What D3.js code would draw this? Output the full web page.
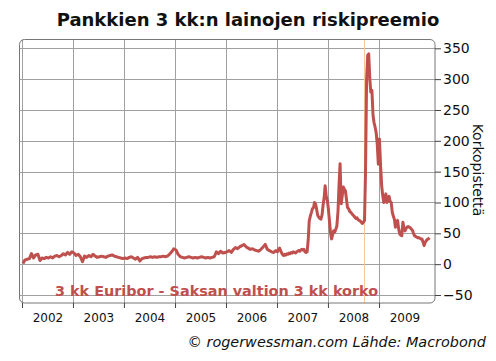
<!DOCTYPE html>
<html>
<head>
<meta charset="utf-8">
<script src="https://cdn.jsdelivr.net/npm/d3@7"></script>
<style>
  body { margin: 0; background: #fff; }
  svg { display: block; font-family: "DejaVu Sans", Verdana, sans-serif; }
</style>
</head>
<body>
<script>
// Values (basis points)
const years = [2002, 2003, 2004, 2005, 2006, 2007, 2008, 2009];
const yTicks = [-50, 0, 50, 100, 150, 200, 250, 300, 350];
const lehman = new Date(2008, 8, 15);

// semi-monthly readings
const spread2002 = [1, 7, 8, 9, 17, 10, 15, 16, 6, 10, 9, 11, 10, 12, 10, 13, 14, 12, 14, 17, 15, 19, 16, 20];
const spread2003 = [18, 14, 16, 12, 4, 13, 11, 14, 12, 16, 13, 11, 12, 13, 12, 11, 13, 14, 15, 13, 12, 11, 10, 9];
const spread2004 = [10, 9, 11, 12, 10, 8, 11, 5, 9, 10, 11, 11, 12, 11, 12, 11, 12, 12, 13, 12, 13, 16, 20, 25];
const spread2005 = [23, 16, 12, 11, 10, 11, 12, 11, 10, 11, 10, 11, 12, 11, 10, 11, 10, 11, 12, 20, 17, 21, 18, 19];
const spread2006 = [20, 22, 19, 24, 27, 25, 28, 30, 32, 28, 26, 24, 25, 23, 22, 21, 24, 28, 32, 24, 22, 20, 19, 22];
// weekly readings
const spread2007 = [20, 24, 26, 22, 18, 15, 14, 16, 15, 17, 16, 18, 17, 19, 18, 20,
                    19, 18, 20, 21, 22, 21, 23, 24, 23, 24, 20, 19, 20, 40, 70, 78,
                    84, 90, 92, 100, 97, 88, 79, 76, 74, 73, 80, 95, 108, 127, 110, 103];
const spread2008 = [90, 70, 50, 41, 48, 54, 52, 57, 62, 85, 125, 163, 98, 110, 125, 122,
                    119, 105, 92, 90, 86, 84, 82, 80, 78, 76, 74, 75, 72, 71, 70, 68,
                    66, 68, 71, 147, 300, 339, 341, 300, 279, 282, 241, 230, 222, 214, 195, 162];
const spread2009 = [203, 160, 127, 112, 100, 105, 114, 100, 106, 110, 102, 100, 84, 78, 73, 60,
                    65, 71, 58, 49, 47, 46, 68, 60, 54, 58, 60, 61, 60, 59, 57, 55,
                    50, 46, 45, 44, 43, 43, 42, 41, 41, 36, 30, 35, 38, 40, 41, 43];

const width = 496;
const height = 361;
const frameLeft = 19.5, frameRight = 435, frameTop = 39.5, frameBottom = 303;
const red = "#c0504d";

const series = [
  [2002, spread2002], [2003, spread2003], [2004, spread2004], [2005, spread2005],
  [2006, spread2006], [2007, spread2007], [2008, spread2008], [2009, spread2009]
];
const data = series.flatMap(([yr, vals]) =>
  vals.map((v, i) => ({ date: new Date(yr, 0, 1 + (i + 0.5) * 365 / vals.length), value: v })));

const x = d3.scaleTime()
  .domain([new Date(2002, 0, 1), new Date(2010, 0, 1)])
  .range([22, 430]);

const y = d3.scaleLinear()
  .domain([-50, 350])
  .range([295, 48.3]);

const svg = d3.create("svg")
  .attr("width", width)
  .attr("height", height);

// title
svg.append("text")
  .attr("x", 248)
  .attr("y", 26)
  .attr("text-anchor", "middle")
  .attr("font-size", 18)
  .attr("font-weight", "bold")
  .attr("fill", "#111")
  .text("Pankkien 3 kk:n lainojen riskipreemio");

// grid
svg.append("g")
  .selectAll("line")
  .data(yTicks)
  .join("line")
  .attr("x1", frameLeft)
  .attr("x2", frameRight)
  .attr("y1", d => Math.round(y(d)) + 0.5)
  .attr("y2", d => Math.round(y(d)) + 0.5)
  .attr("stroke", "#a0a0a0");

svg.append("g")
  .selectAll("line")
  .data(years)
  .join("line")
  .attr("x1", d => Math.round(x(new Date(d, 0, 1))) + 0.5)
  .attr("x2", d => Math.round(x(new Date(d, 0, 1))) + 0.5)
  .attr("y1", frameTop)
  .attr("y2", frameBottom)
  .attr("stroke", "#a0a0a0");

// Lehman marker
svg.append("line")
  .attr("x1", Math.round(x(lehman)) + 0.5)
  .attr("x2", Math.round(x(lehman)) + 0.5)
  .attr("y1", frameTop)
  .attr("y2", frameBottom)
  .attr("stroke", "#f9c796");

// frame
svg.append("rect")
  .attr("x", frameLeft)
  .attr("y", frameTop)
  .attr("width", frameRight - frameLeft)
  .attr("height", frameBottom - frameTop)
  .attr("rx", 5)
  .attr("fill", "none")
  .attr("stroke", "#777");

// legend text
svg.append("text")
  .attr("x", 55)
  .attr("y", 295.5)
  .attr("font-size", 14.4)
  .attr("font-weight", "bold")
  .attr("fill", red)
  .text("3 kk Euribor - Saksan valtion 3 kk korko");

// the series
const line = d3.line()
  .x(d => x(d.date))
  .y(d => y(d.value));

svg.append("path")
  .datum(data)
  .attr("d", line)
  .attr("fill", "none")
  .attr("stroke", red)
  .attr("stroke-width", 3)
  .attr("stroke-linejoin", "round");

// right axis
svg.append("g")
  .attr("transform", "translate(" + frameRight + ",0)")
  .call(d3.axisRight(y).tickValues(yTicks).tickSize(6).tickPadding(2))
  .call(g => g.select(".domain").remove())
  .call(g => g.selectAll("line").attr("stroke", "#444"))
  .call(g => g.selectAll("text")
    .attr("font-size", 14)
    .attr("fill", "#111")
    .attr("font-family", "DejaVu Sans, Verdana, sans-serif"));

// bottom ticks at year boundaries
svg.append("g")
  .attr("transform", "translate(0," + frameBottom + ")")
  .call(d3.axisBottom(x).tickValues(years.map(d => new Date(d, 0, 1))).tickSize(5).tickFormat(""))
  .call(g => g.select(".domain").remove())
  .call(g => g.selectAll("line").attr("stroke", "#444"));

// year labels in the middle of each year
svg.append("g")
  .attr("transform", "translate(0," + frameBottom + ")")
  .call(d3.axisBottom(x).tickValues(years.map(d => new Date(d, 6, 2))).tickSize(0).tickPadding(10)
    .tickFormat(d3.timeFormat("%Y")))
  .call(g => g.select(".domain").remove())
  .call(g => g.selectAll("text")
    .attr("font-size", 12)
    .attr("fill", "#111")
    .attr("font-family", "DejaVu Sans, Verdana, sans-serif"));

// axis title
svg.append("text")
  .attr("transform", "translate(473,170) rotate(90)")
  .attr("text-anchor", "middle")
  .attr("font-size", 14)
  .attr("fill", "#111")
  .text("Korkopistettä");

// source
svg.append("text")
  .attr("x", 486)
  .attr("y", 347)
  .attr("text-anchor", "end")
  .attr("font-size", 14.4)
  .attr("font-style", "italic")
  .attr("fill", "#111")
  .text("© rogerwessman.com Lähde: Macrobond");

document.body.appendChild(svg.node());
</script>
</body>
</html>
